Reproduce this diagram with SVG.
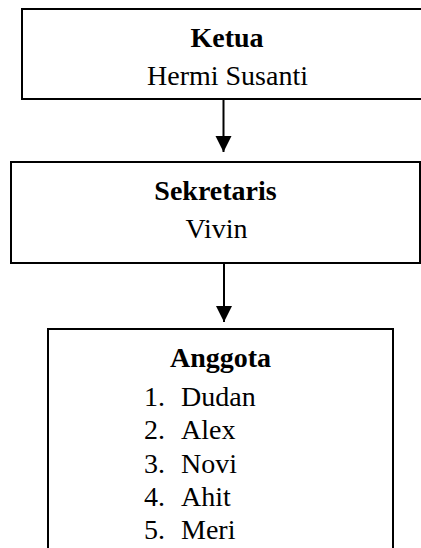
<svg xmlns="http://www.w3.org/2000/svg" width="421" height="548" viewBox="0 0 421 548">
<style>
.box{fill:#fff;stroke:#000;stroke-width:2}
text{font-family:"Liberation Serif","Times New Roman",serif;font-size:28px;fill:#000}
.b{font-weight:bold}
.c{text-anchor:middle}
.conn{stroke:#000;stroke-width:2;fill:none}
</style>
<defs>
<marker id="ah" markerUnits="userSpaceOnUse" markerWidth="16" markerHeight="17" refX="16" refY="8" orient="auto" viewBox="0 0 16 16">
<path d="M0,0 L16,8 L0,16 Z" fill="#000"/>
</marker>
</defs>
<rect width="421" height="548" fill="#fff"/>
<g id="connectors">
<line class="conn" x1="223.5" y1="95" x2="223.5" y2="152" marker-end="url(#ah)"/>
<line class="conn" x1="224" y1="263" x2="224" y2="322" marker-end="url(#ah)"/>
</g>
<g id="ketua">
<rect class="box" x="22" y="9" width="420" height="90"/>
<text class="b c" x="227" y="47">Ketua</text>
<text class="c" x="227.5" y="85">Hermi Susanti</text>
</g>
<g id="sekretaris">
<rect class="box" x="11" y="162" width="409" height="101"/>
<text class="b c" x="215.5" y="200">Sekretaris</text>
<text class="c" x="216.5" y="238">Vivin</text>
</g>
<g id="anggota">
<rect class="box" x="48" y="329" width="345" height="240"/>
<text class="b c" x="220.5" y="367">Anggota</text>
<text x="144" y="405.5">1.</text><text x="181" y="405.5">Dudan</text>
<text x="144" y="439">2.</text><text x="181" y="439">Alex</text>
<text x="144" y="472.5">3.</text><text x="181" y="472.5">Novi</text>
<text x="144" y="506">4.</text><text x="181" y="506">Ahit</text>
<text x="144" y="539">5.</text><text x="181" y="539">Meri</text>
</g>
</svg>
